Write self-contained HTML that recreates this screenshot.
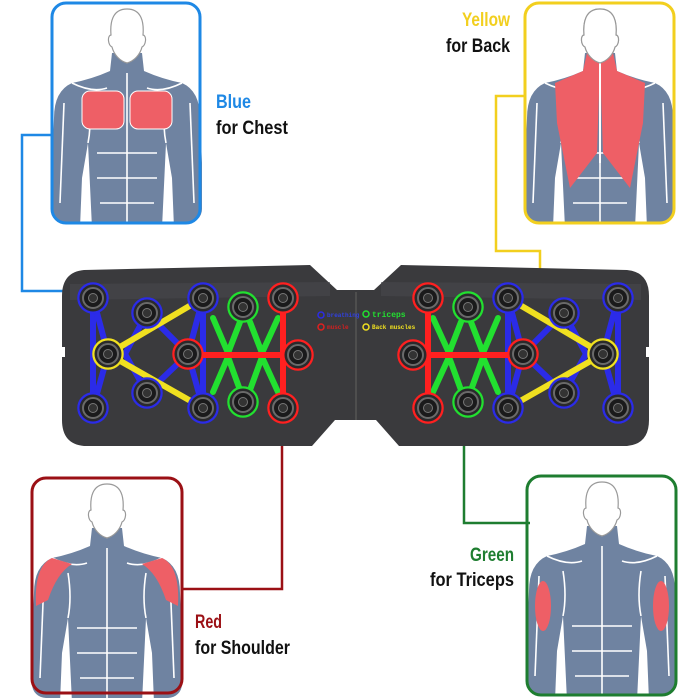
<!DOCTYPE html>
<html><head><meta charset="utf-8"><style>
html,body{margin:0;padding:0;background:#fff}
svg{display:block}
.t{font-family:"Liberation Sans Narrow","Liberation Sans",sans-serif;font-weight:bold;font-size:19px}
</style></head><body>
<svg width="700" height="700" viewBox="0 0 700 700" xmlns="http://www.w3.org/2000/svg">
<defs>
<clipPath id="bx"><rect x="0" y="0" width="150" height="220" rx="14"/></clipPath>
<g id="body">
<path d="M60,50 L58,68 Q40,76 20,80 Q2,88 2,115 L0,160 L0,225 L28,225 L30,175 L36,140 L40,225 L110,225 L114,140 L120,175 L122,225 L150,225 L150,160 L148,115 Q148,88 130,80 Q110,76 92,68 L90,50 Z" fill="#6f83a1"/>
<g stroke="#fff" stroke-width="1.6" fill="none">
<path d="M75,70 L75,225"/><path d="M36,140 Q40,120 36,95"/><path d="M114,140 Q110,120 114,95"/>
<path d="M12,100 L8,200"/><path d="M138,100 L142,200"/><path d="M45,150 L105,150"/><path d="M45,175 L105,175"/><path d="M48,200 L102,200"/>
<path d="M20,80 Q40,90 55,85"/><path d="M130,80 Q110,90 95,85"/>
</g>
<path d="M75,6 C60,6 58,20 59,32 C55,33 56,42 60,44 C62,52 68,58 75,60 C82,58 88,52 90,44 C94,42 95,33 91,32 C92,20 90,6 75,6Z" fill="#fff" stroke="#999" stroke-width="1.2"/>
</g>
<g id="hole"><circle r="13.5" fill="#2a2a2c"/><circle r="10" fill="#1a1a1b" stroke="#6a6a6a" stroke-width="2"/><circle r="4.5" fill="#333" stroke="#777" stroke-width="1"/></g>
<g id="half">
<path d="M84,270 L310,265 L337,290 L356,290 L356,420 L335,420 L312,446 L84,446 Q62,444 62,420 L62,296 Q62,272 84,270Z" fill="#3a3a3d"/>
<path d="M70,284 L330,282 L330,296 L70,300Z" fill="#48484c" opacity=".6"/>
<g stroke-width="6" fill="none" stroke-linecap="round">
<g stroke="#2b2be8"><path d="M93,298 L93,408"/><path d="M93,298 L108,354 L93,408"/><path d="M147,313 L125,354 L147,393"/><path d="M147,313 L188,354 L147,393"/><path d="M203,298 L188,354 L203,408"/><path d="M203,298 L203,408"/></g>
<g stroke="#f0e020"><path d="M108,354 L203,298"/><path d="M108,354 L203,408"/></g>
<g stroke="#22e030"><path d="M213,318 L228,353 L240,322"/><path d="M250,322 L262,353 L278,318"/><path d="M213,392 L228,357 L240,390"/><path d="M250,390 L262,357 L278,392"/></g>
<g stroke="#ff2020"><path d="M283,298 L283,408"/><path d="M188,355 L298,355"/></g>
</g>
<g fill="none" stroke-width="3.5">
<g stroke="#2b2be8"><circle cx="93" cy="298" r="14"/><circle cx="147" cy="313" r="14"/><circle cx="203" cy="298" r="14"/><circle cx="147" cy="393" r="14"/><circle cx="93" cy="408" r="14"/><circle cx="203" cy="408" r="14"/></g>
<circle cx="108" cy="354" r="14" stroke="#f0e020"/>
<g stroke="#ff2020"><circle cx="188" cy="354" r="14"/><circle cx="283" cy="298" r="14"/><circle cx="298" cy="355" r="14"/><circle cx="283" cy="408" r="14"/></g>
<g stroke="#22e030"><circle cx="243" cy="307" r="14"/><circle cx="243" cy="402" r="14"/></g>
</g>
<use href="#hole" x="93" y="298"/><use href="#hole" x="147" y="313"/><use href="#hole" x="203" y="298"/><use href="#hole" x="147" y="393"/><use href="#hole" x="93" y="408"/><use href="#hole" x="203" y="408"/><use href="#hole" x="108" y="354"/><use href="#hole" x="188" y="354"/><use href="#hole" x="283" y="298"/><use href="#hole" x="298" y="355"/><use href="#hole" x="283" y="408"/><use href="#hole" x="243" y="307"/><use href="#hole" x="243" y="402"/>
<rect x="60" y="347" width="5" height="10" fill="#fff"/>
</g>
</defs>

<g fill="none" stroke-width="2.5">
<path d="M52,135 L22,135 L22,291 L72,291" stroke="#1e88e5"/>
<path d="M525,96 L496,96 L496,251 L540,251 L540,300" stroke="#f2cf1e"/>
<path d="M282,440 L282,589 L182,589" stroke="#9b1015"/>
<path d="M464,432 L464,523 L530,523" stroke="#1e7d30"/>
</g>

<use href="#half"/>
<use href="#half" transform="translate(711,0) scale(-1,1)"/>
<line x1="356" y1="292" x2="356" y2="420" stroke="#555" stroke-width="1.5"/>
<g font-family="Liberation Mono,monospace" font-size="6" font-weight="bold">
<circle cx="321" cy="315" r="3" fill="none" stroke="#2b2be8" stroke-width="1.5"/><text x="327" y="317" fill="#3040e0">breathing</text>
<circle cx="321" cy="327" r="3" fill="none" stroke="#e02020" stroke-width="1.5"/><text x="327" y="329" fill="#d02020">muscle</text>
<circle cx="366" cy="314" r="3" fill="none" stroke="#22e030" stroke-width="1.5"/><text x="372" y="317" fill="#22e030" font-size="8">triceps</text>
<circle cx="366" cy="327" r="3" fill="none" stroke="#f0e020" stroke-width="1.5"/><text x="372" y="329" fill="#f0e020">Back muscles</text>
</g>

<g transform="translate(52,3)">
<g clip-path="url(#bx)"><use href="#body"/>
<rect x="30" y="88" width="42" height="38" rx="8" fill="#ee5f66" stroke="#fff"/><rect x="78" y="88" width="42" height="38" rx="8" fill="#ee5f66" stroke="#fff"/></g>
<rect x="0" y="0" width="148" height="220" rx="14" fill="none" stroke="#1e88e5" stroke-width="3"/>
</g>
<g transform="translate(525,3)">
<g clip-path="url(#bx)"><use href="#body"/>
<path d="M62,50 L88,50 L92,68 L120,80 L118,120 L105,185 L78,150 L75,60 L72,150 L45,185 L32,120 L30,80 L58,68Z" fill="#ee5f66"/>
<path d="M75,55 L75,160" stroke="#fff" stroke-width="2"/>
<path d="M75,6 C60,6 58,20 59,32 C55,33 56,42 60,44 C62,52 68,58 75,60 C82,58 88,52 90,44 C94,42 95,33 91,32 C92,20 90,6 75,6Z" fill="#fff" stroke="#999" stroke-width="1.2"/></g>
<rect x="0" y="0" width="149" height="220" rx="14" fill="none" stroke="#f2cf1e" stroke-width="3"/>
</g>
<g transform="translate(32,478)">
<g clip-path="url(#bx)"><use href="#body"/>
<path d="M20,80 Q2,88 4,128 L16,122 Q25,95 40,86Z" fill="#ee5f66"/><path d="M130,80 Q148,88 146,128 L134,122 Q125,95 110,86Z" fill="#ee5f66"/></g>
<rect x="0" y="0" width="150" height="215" rx="14" fill="none" stroke="#9b1015" stroke-width="3"/>
</g>
<g transform="translate(527,476)">
<g clip-path="url(#bx)"><use href="#body"/>
<ellipse cx="16" cy="130" rx="8" ry="25" fill="#ee5f66"/><ellipse cx="134" cy="130" rx="8" ry="25" fill="#ee5f66"/></g>
<rect x="0" y="0" width="149" height="219" rx="14" fill="none" stroke="#1e7d30" stroke-width="3"/>
</g>

<text class="t" x="216" y="108" fill="#1e88e5" textLength="35" lengthAdjust="spacingAndGlyphs">Blue</text>
<text class="t" x="216" y="134" fill="#111" textLength="72" lengthAdjust="spacingAndGlyphs">for Chest</text>
<text class="t" x="462" y="26" fill="#f2cf1e" textLength="48" lengthAdjust="spacingAndGlyphs">Yellow</text>
<text class="t" x="446" y="52" fill="#111" textLength="64" lengthAdjust="spacingAndGlyphs">for Back</text>
<text class="t" x="195" y="628" fill="#9b1015" textLength="27" lengthAdjust="spacingAndGlyphs">Red</text>
<text class="t" x="195" y="654" fill="#111" textLength="95" lengthAdjust="spacingAndGlyphs">for Shoulder</text>
<text class="t" x="470" y="561" fill="#1e7d30" textLength="44" lengthAdjust="spacingAndGlyphs">Green</text>
<text class="t" x="430" y="586" fill="#111" textLength="84" lengthAdjust="spacingAndGlyphs">for Triceps</text>
</svg>
</body></html>
